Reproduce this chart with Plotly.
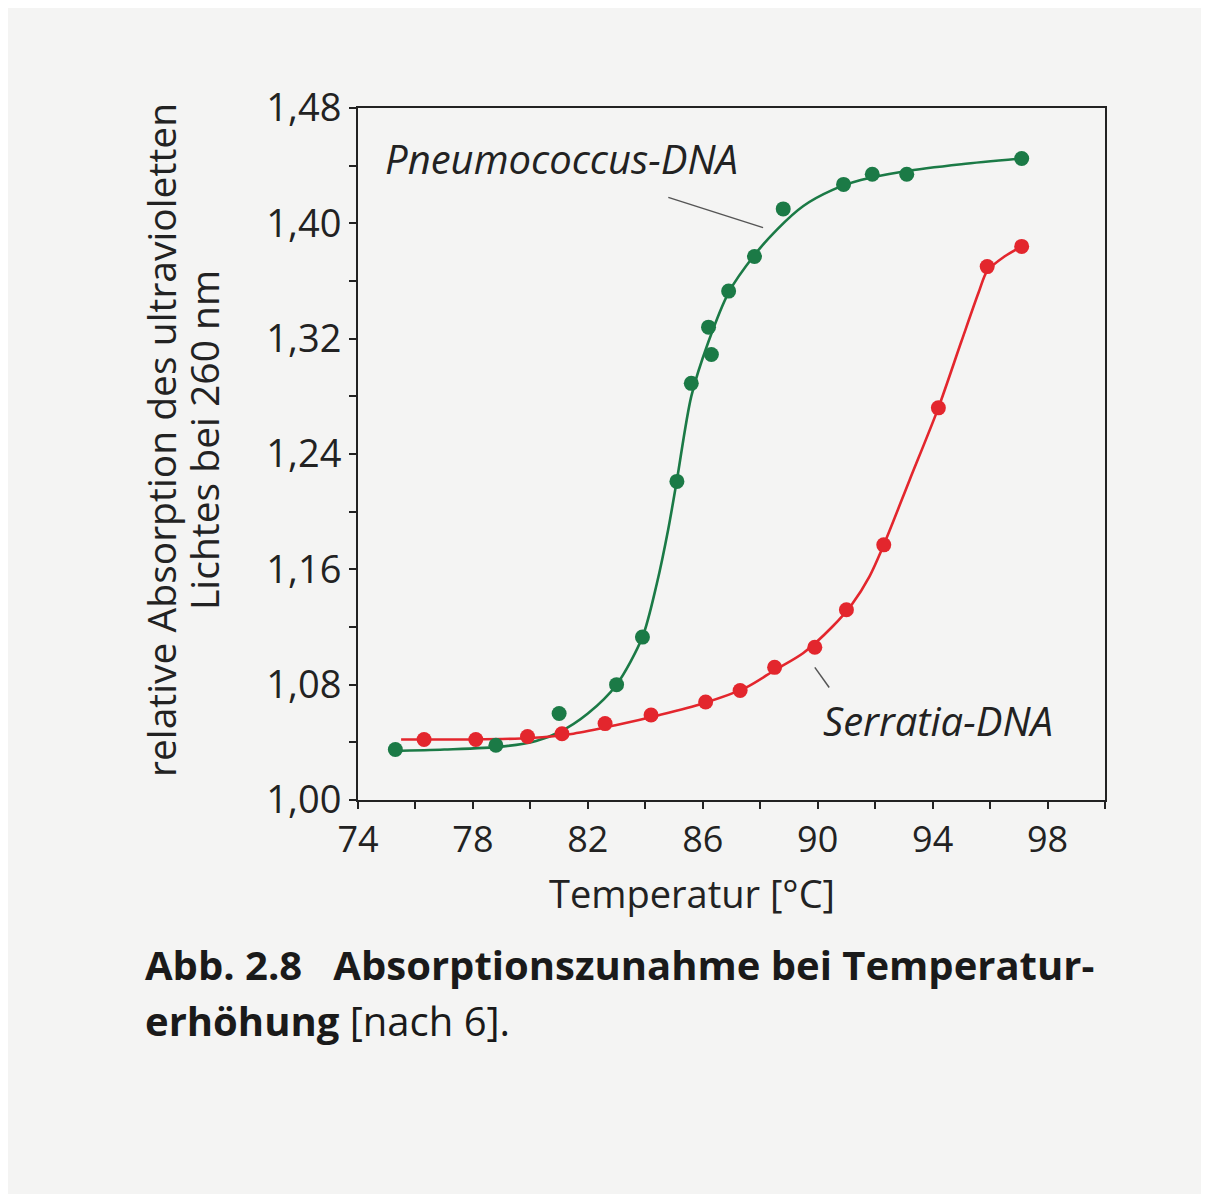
import plotly.graph_objects as go

# ---- data ----
pneumo_x = [75.3, 78.8, 81.0, 83.0, 83.9, 85.1, 85.6, 86.3, 86.2, 86.9, 87.8, 88.8, 90.9, 91.9, 93.1, 97.1]
pneumo_y = [1.035, 1.038, 1.060, 1.080, 1.113, 1.221, 1.289, 1.309, 1.328, 1.353, 1.377, 1.410, 1.427, 1.434, 1.434, 1.445]

serr_x = [76.3, 78.1, 79.9, 81.1, 82.6, 84.2, 86.1, 87.3, 88.5, 89.9, 91.0, 92.3, 94.2, 95.9, 97.1]
serr_y = [1.042, 1.042, 1.044, 1.046, 1.053, 1.059, 1.068, 1.076, 1.092, 1.106, 1.132, 1.177, 1.272, 1.370, 1.384]

# fitted curves
pneumo_fit_x = [75.2, 77.0, 79.0, 80.2, 81.0, 82.0, 83.0, 83.9, 84.4, 84.8, 85.1, 85.6, 86.2, 86.9, 87.8, 88.6, 89.5, 90.5, 91.5, 93.0, 95.0, 97.1]
pneumo_fit_y = [1.034, 1.035, 1.037, 1.041, 1.047, 1.060, 1.080, 1.113, 1.150, 1.188, 1.222, 1.280, 1.318, 1.352, 1.378, 1.396, 1.412, 1.423, 1.430, 1.436, 1.441, 1.445]

serr_fit_x = [75.5, 78.0, 80.0, 81.5, 83.0, 84.5, 86.0, 87.5, 88.5, 89.5, 90.5, 91.2, 91.8, 92.3, 93.2, 94.2, 95.0, 95.6, 95.9, 96.5, 97.1]
serr_fit_y = [1.042, 1.042, 1.043, 1.046, 1.052, 1.059, 1.067, 1.078, 1.090, 1.102, 1.120, 1.136, 1.155, 1.177, 1.222, 1.272, 1.318, 1.352, 1.367, 1.377, 1.384]

GREEN = "#1b7a46"
RED = "#e3262d"
FONT = "Open Sans"
INK = "#222222"

fig = go.Figure()
fig.add_trace(go.Scatter(x=pneumo_fit_x, y=pneumo_fit_y, mode="lines",
                         line=dict(color=GREEN, width=2.6, shape="spline", smoothing=0.8),
                         showlegend=False, hoverinfo="skip"))
fig.add_trace(go.Scatter(x=serr_fit_x, y=serr_fit_y, mode="lines",
                         line=dict(color=RED, width=2.6, shape="spline", smoothing=0.8),
                         showlegend=False, hoverinfo="skip"))
fig.add_trace(go.Scatter(x=pneumo_x, y=pneumo_y, mode="markers",
                         marker=dict(color=GREEN, size=15, line=dict(width=0)),
                         name="Pneumococcus-DNA", showlegend=False))
fig.add_trace(go.Scatter(x=serr_x, y=serr_y, mode="markers",
                         marker=dict(color=RED, size=15, line=dict(width=0)),
                         name="Serratia-DNA", showlegend=False))

# pointer lines
fig.add_shape(type="line", x0=84.8, y0=1.418, x1=88.1, y1=1.397,
              line=dict(color="#555555", width=1.5))
fig.add_shape(type="line", x0=89.9, y0=1.092, x1=90.4, y1=1.078,
              line=dict(color="#555555", width=1.5))

# curve labels
fig.add_annotation(x=81.1, y=1.445, text="<i>Pneumococcus-DNA</i>", showarrow=False,
                   xanchor="center", yanchor="middle",
                   font=dict(family=FONT, size=40, color=INK))
fig.add_annotation(x=94.2, y=1.055, text="<i>Serratia-DNA</i>", showarrow=False,
                   xanchor="center", yanchor="middle",
                   font=dict(family=FONT, size=40, color=INK))

# reference-picture pixel geometry of the plot area
RL, RR, RT, RB = 358, 1105, 108, 800
OFF = 8  # page margin of the browser
W, H = 1209 - 2 * OFF, 1202 - 2 * OFF
def px(xp):
    return (xp - RL) / (RR - RL)
def py(yp):
    return (RB - yp) / (RB - RT)

def note(x, y, text, size, angle=0, xanchor="center", color=INK):
    fig.add_annotation(xref="paper", yref="paper", x=px(x), y=py(y), text=text,
                       showarrow=False, textangle=angle, xanchor=xanchor, yanchor="middle",
                       font=dict(family=FONT, size=size, color=color))

# axis titles
note(692, 893, "Temperatur [°C]", 38)
note(160, 440, "relative Absorption des ultravioletten", 39, angle=-90)
note(203, 440, "Lichtes bei 260 nm", 39, angle=-90)

# caption
note(143, 965, "<b>Abb. 2.8   Absorptionszunahme bei Temperatur-</b>", 40, xanchor="left", color="#1a1a1a")
note(143, 1020, "<b>erhöhung</b> [nach 6].", 40, xanchor="left", color="#1a1a1a")

fig.update_layout(
    width=W, height=H,
    margin=dict(l=RL - OFF, r=W - (RR - OFF), t=RT - OFF, b=H - (RB - OFF)),
    paper_bgcolor="#f4f4f3", plot_bgcolor="#f4f4f3",
    separators=",.",
    font=dict(family=FONT, size=36, color=INK),
)
axis_common = dict(ticks="outside", ticklen=7, tickwidth=2, tickcolor=INK,
                   showline=True, linecolor=INK, linewidth=2, mirror=True,
                   showgrid=False, zeroline=False)
fig.update_xaxes(range=[74, 100], tickmode="linear", tick0=74, dtick=4,
                 tickfont=dict(family=FONT, size=36, color=INK),
                 minor=dict(tickmode="linear", tick0=74, dtick=2, ticks="outside",
                            ticklen=7, tickwidth=2, tickcolor=INK),
                 **axis_common)
fig.update_yaxes(range=[1.0, 1.48], tickmode="linear", tick0=1.0, dtick=0.08, tickformat=".2f",
                 tickfont=dict(family=FONT, size=38, color=INK),
                 minor=dict(tickmode="linear", tick0=1.0, dtick=0.04, ticks="outside",
                            ticklen=7, tickwidth=2, tickcolor=INK),
                 **axis_common)

fig.write_html("out.html")
